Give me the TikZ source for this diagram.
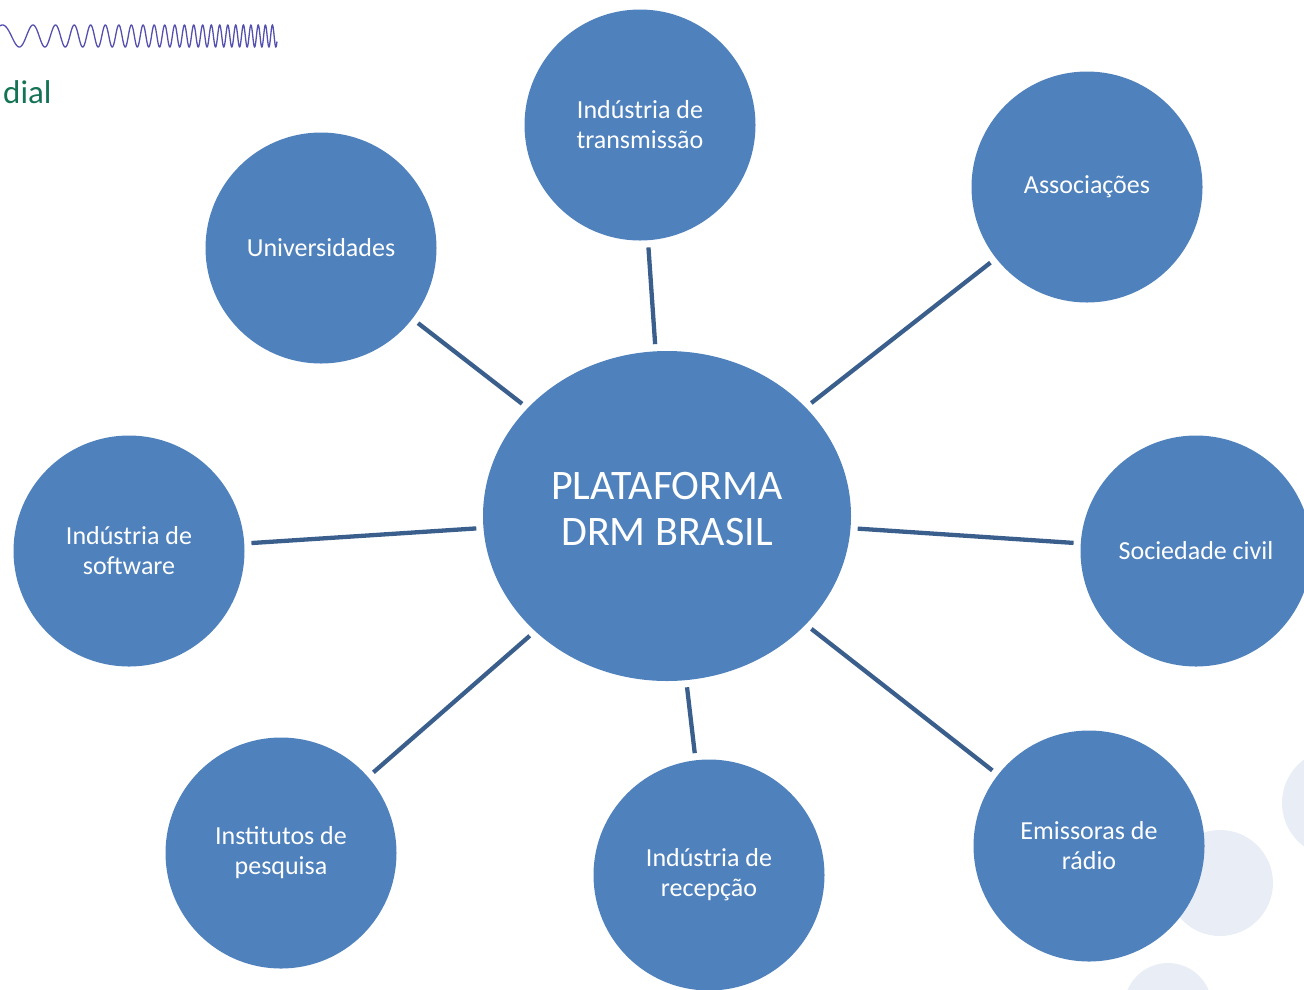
\documentclass[tikz,border=0pt]{standalone}
\usepackage{fontspec}
\setmainfont{Carlito}
\usepackage{xcolor}
\usepackage{tikz}
\usetikzlibrary{shapes.geometric}

\definecolor{bubble}{RGB}{79,129,189}
\definecolor{spoke}{RGB}{58,95,140}
\definecolor{faint}{RGB}{233,238,246}
\definecolor{wave}{RGB}{85,80,175}
\definecolor{slidegreen}{RGB}{20,115,85}

\begin{document}
\begin{tikzpicture}[x=1pt,y=-1pt,
  actor/.style={circle,fill=bubble,minimum size=231pt,inner sep=0pt,text=white,align=center,font=\fontsize{26}{30}\selectfont},
  hub/.style={ellipse,fill=bubble,minimum width=368pt,minimum height=330pt,inner sep=0pt,text=white,align=center,text depth=14pt,font=\fontsize{42}{46}\selectfont},
  spokeline/.style={spoke,line width=4.3pt,shorten <=7pt,shorten >=7pt}]
\useasboundingbox (0,0) rectangle (1304,989);
\clip (0,0) rectangle (1304,989);

\foreach \x/\y/\r in {1220/883/53, 1336/803/54, 1168/1007/44}% faint slide circles
\fill[faint] (\x,\y) circle (\r pt);

\draw[wave,line width=1.3pt] plot[domain=0:277,samples=900] (\x,{36+11*sin(360*(0.025*\x+(0.0148*\x)^2)-113)});
\node[anchor=base west,inner sep=0pt,text=slidegreen,font=\fontsize{33}{36}\selectfont] (mundial) at (3,103) {dial};

\node[hub] (drm) at (667,516) {PLATAFORMA\\DRM BRASIL};

\node[actor] (transm) at (640,125) {Indústria de\\transmissão};
\node[actor] (assoc) at (1087,187) {Associações};
\node[actor] (univ) at (321,248) {Universidades};
\node[actor] (soft) at (129,551) {Indústria de\\software};
\node[actor] (civil) at (1196,551) {Sociedade civil};
\node[actor] (inst) at (281,853) {Institutos de\\pesquisa};
\node[actor] (recep) at (709,875) {Indústria de\\recepção};
\node[actor] (emiss) at (1089,846) {Emissoras de\\rádio};

\foreach \n in {transm,assoc,univ,soft,civil,inst,recep,emiss}% spokes from the hub
\draw[spokeline] (drm) -- (\n);
\end{tikzpicture}
\end{document}
